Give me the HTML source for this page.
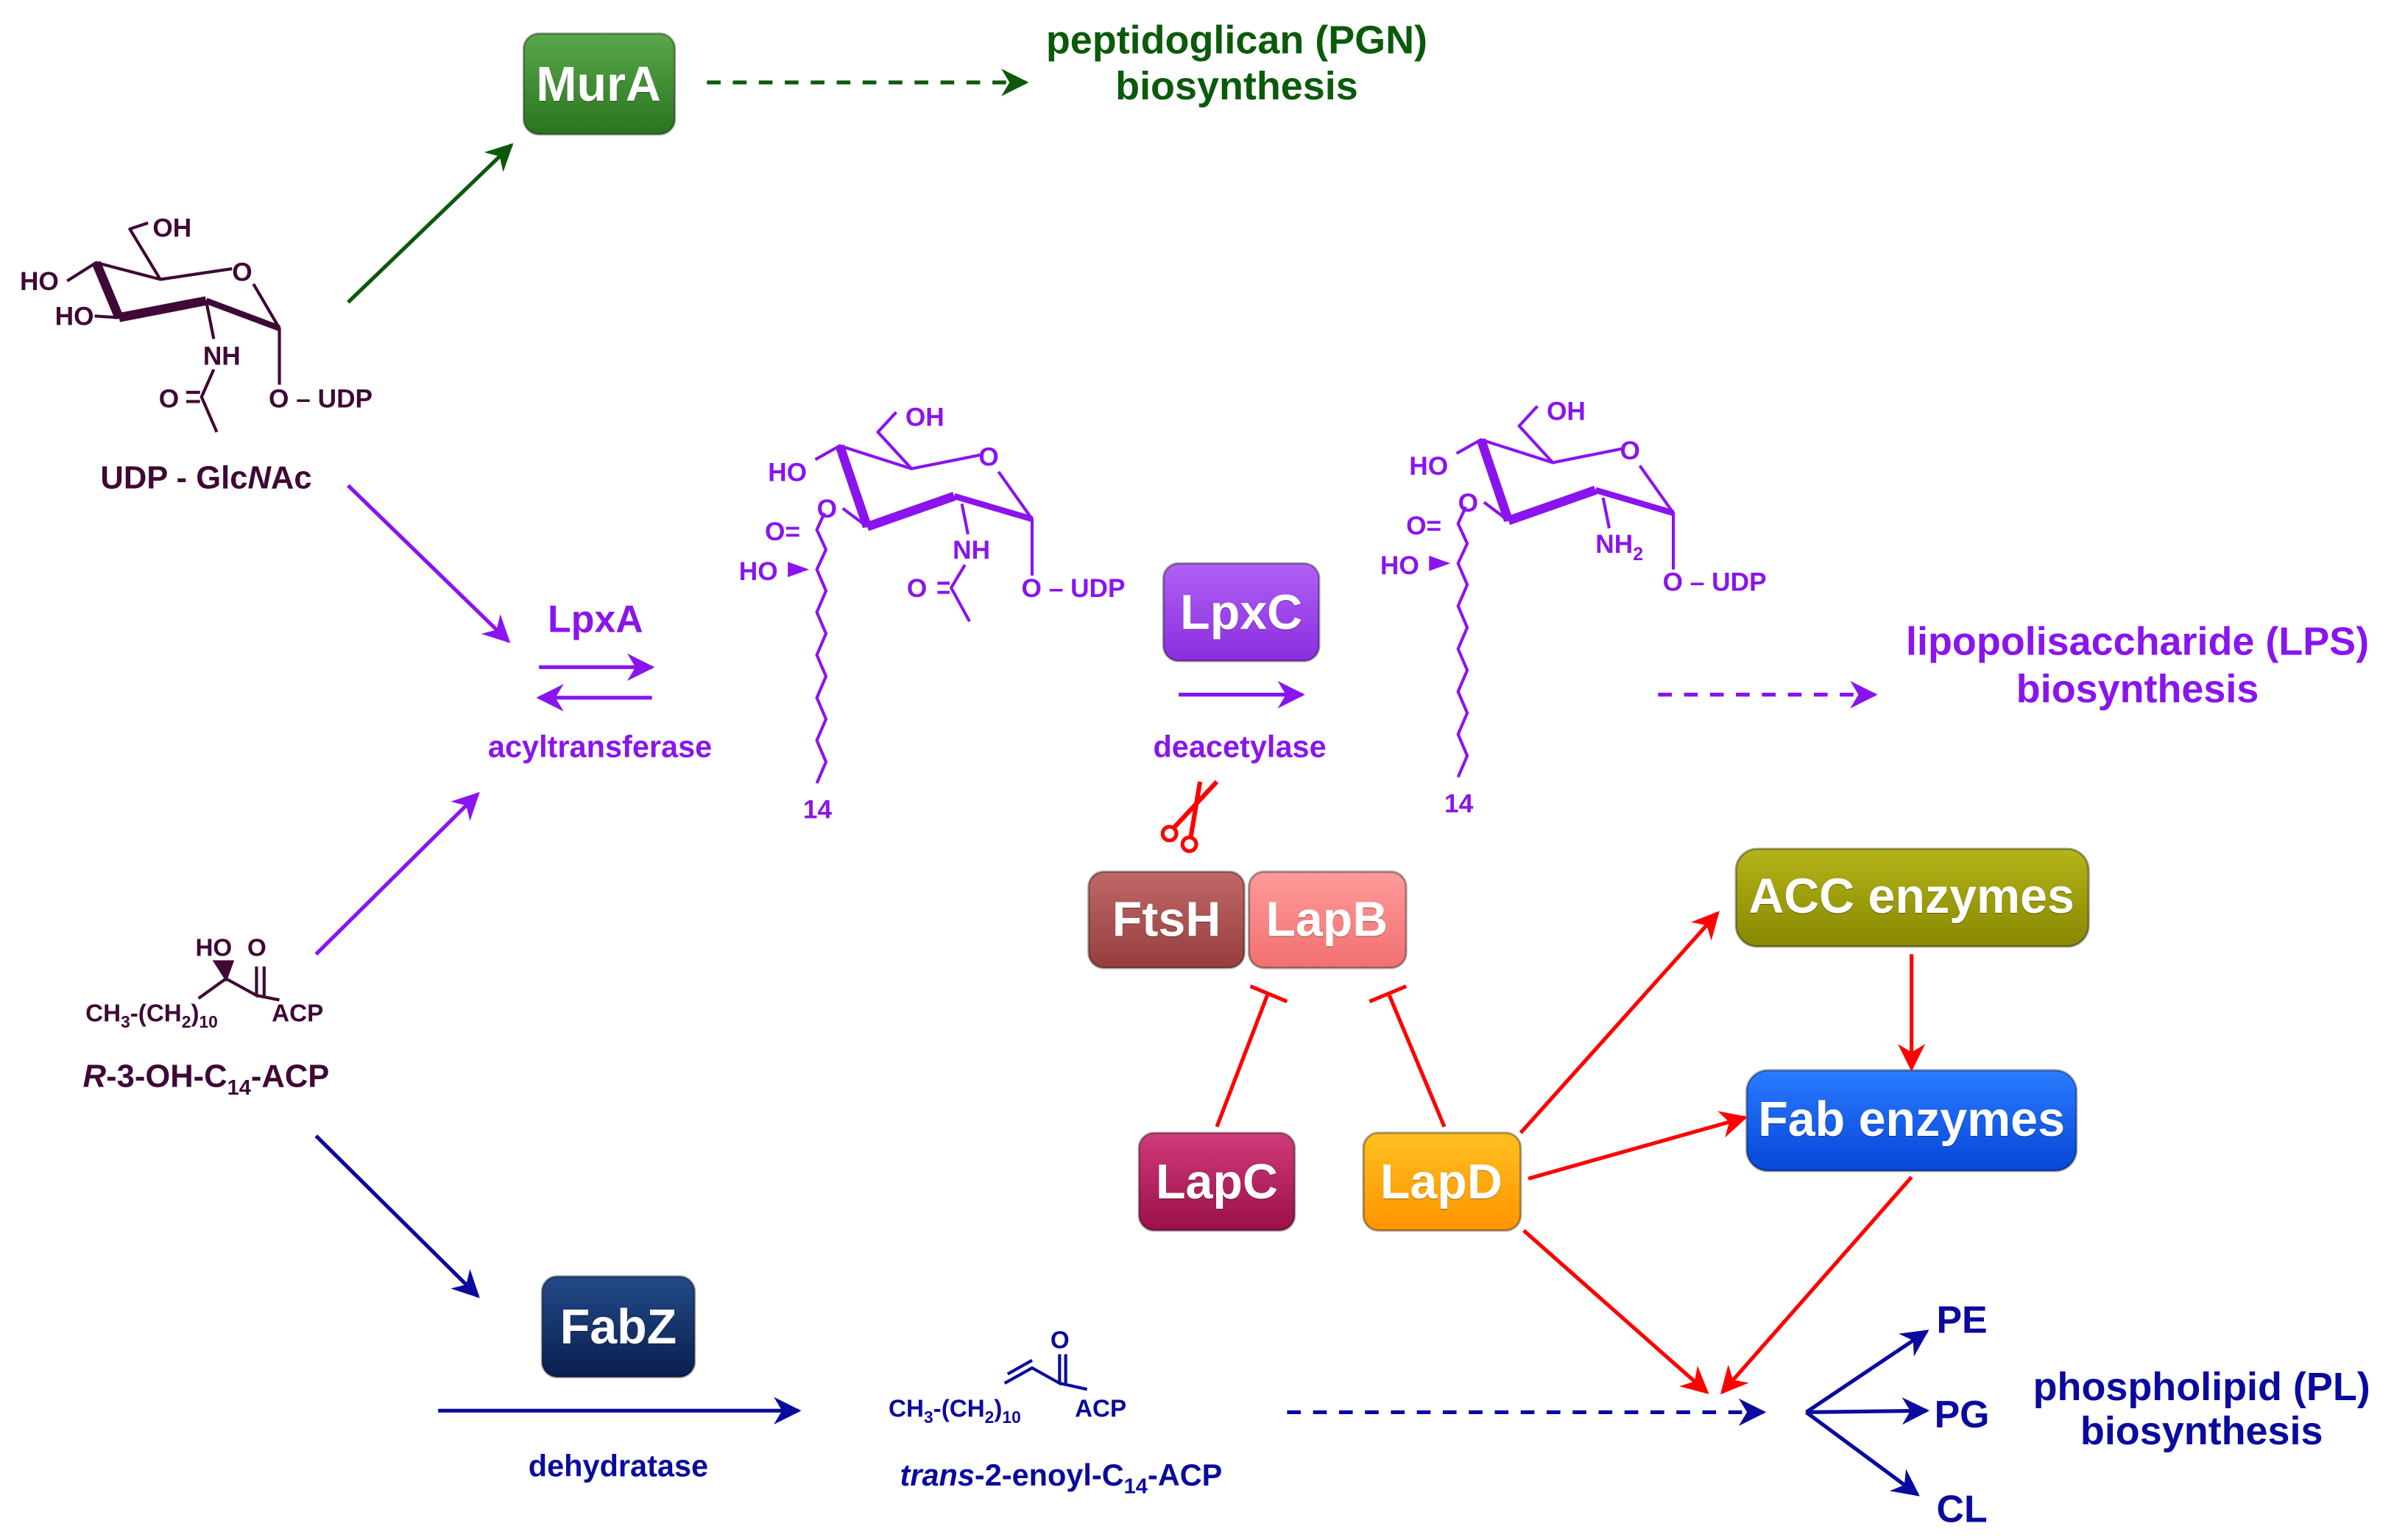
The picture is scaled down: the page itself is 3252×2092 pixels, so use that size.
<!DOCTYPE html>
<html><head><meta charset="utf-8"><style>
html,body{margin:0;padding:0;background:#fff}
svg{display:block}
text{font-family:"Liberation Sans Narrow","Liberation Sans",sans-serif;font-weight:bold}
</style></head><body>
<svg width="3252" height="2092" viewBox="0 0 1568 1008.7" preserveAspectRatio="none" xmlns="http://www.w3.org/2000/svg">
<defs>
<marker id="ap" viewBox="0 0 10 10" refX="9" refY="5" markerWidth="22" markerHeight="18" orient="auto" markerUnits="userSpaceOnUse"><path d="M0,0 L10,5 L0,10 L3,5z" fill="#8a14ee"/></marker>
<marker id="ab" viewBox="0 0 10 10" refX="9" refY="5" markerWidth="22" markerHeight="18" orient="auto" markerUnits="userSpaceOnUse"><path d="M0,0 L10,5 L0,10 L3,5z" fill="#0a0a9e"/></marker>
<marker id="ar" viewBox="0 0 10 10" refX="9" refY="5" markerWidth="22" markerHeight="18" orient="auto" markerUnits="userSpaceOnUse"><path d="M0,0 L10,5 L0,10 L3,5z" fill="#ff0000"/></marker>
<marker id="agg" viewBox="0 0 10 10" refX="9" refY="5" markerWidth="22" markerHeight="18" orient="auto" markerUnits="userSpaceOnUse"><path d="M0,0 L10,5 L0,10 L3,5z" fill="#0b5a0b"/></marker>
<linearGradient id="gMur" x1="0" y1="0" x2="0" y2="1"><stop offset="0" stop-color="#5aa84a"/><stop offset="1" stop-color="#2a7420"/></linearGradient>
<linearGradient id="gLpxC" x1="0" y1="0" x2="0" y2="1"><stop offset="0" stop-color="#b060f4"/><stop offset="1" stop-color="#8a2ee0"/></linearGradient>
<linearGradient id="gFts" x1="0" y1="0" x2="0" y2="1"><stop offset="0" stop-color="#c06868"/><stop offset="1" stop-color="#963e3e"/></linearGradient>
<linearGradient id="gLapB" x1="0" y1="0" x2="0" y2="1"><stop offset="0" stop-color="#ff9a9a"/><stop offset="1" stop-color="#f27070"/></linearGradient>
<linearGradient id="gACC" x1="0" y1="0" x2="0" y2="1"><stop offset="0" stop-color="#b4b41a"/><stop offset="1" stop-color="#878800"/></linearGradient>
<linearGradient id="gFab" x1="0" y1="0" x2="0" y2="1"><stop offset="0" stop-color="#2a7cff"/><stop offset="1" stop-color="#0646d8"/></linearGradient>
<linearGradient id="gLapC" x1="0" y1="0" x2="0" y2="1"><stop offset="0" stop-color="#d03a7a"/><stop offset="1" stop-color="#9a1048"/></linearGradient>
<linearGradient id="gLapD" x1="0" y1="0" x2="0" y2="1"><stop offset="0" stop-color="#ffc020"/><stop offset="1" stop-color="#ff9400"/></linearGradient>
<linearGradient id="gFabZ" x1="0" y1="0" x2="0" y2="1"><stop offset="0" stop-color="#234a88"/><stop offset="1" stop-color="#0a1e50"/></linearGradient>
</defs>

<g stroke="rgba(0,0,0,0.35)" stroke-width="1.5">
<rect x="343" y="22" width="99" height="66" rx="10" fill="url(#gMur)"/>
<rect x="762" y="369" width="102" height="64" rx="10" fill="url(#gLpxC)"/>
<rect x="713" y="571" width="102" height="63" rx="10" fill="url(#gFts)"/>
<rect x="818" y="571" width="103" height="63" rx="10" fill="url(#gLapB)"/>
<rect x="1137" y="556" width="231" height="64" rx="14" fill="url(#gACC)"/>
<rect x="1144" y="701" width="216" height="66" rx="14" fill="url(#gFab)"/>
<rect x="746" y="742" width="102" height="64" rx="10" fill="url(#gLapC)"/>
<rect x="893" y="742" width="103" height="64" rx="10" fill="url(#gLapD)"/>
<rect x="355" y="836" width="100" height="66" rx="10" fill="url(#gFabZ)"/>
</g>
<g fill="#fff" font-size="32" text-anchor="middle" style="text-shadow:0 1px 1px rgba(0,0,0,0.4)">
<text x="392" y="66">MurA</text>
<text x="813" y="412">LpxC</text>
<text x="764" y="613">FtsH</text>
<text x="869" y="613">LapB</text>
<text x="1252" y="598">ACC enzymes</text>
<text x="1252" y="744">Fab enzymes</text>
<text x="797" y="785">LapC</text>
<text x="944" y="785">LapD</text>
<text x="405" y="880">FabZ</text>
</g>

<g stroke="#0b5a0b" stroke-width="2.5" fill="none">
<line x1="228" y1="198" x2="335" y2="95" marker-end="url(#agg)"/>
<line x1="463" y1="54" x2="672" y2="54" stroke-dasharray="9,8" marker-end="url(#agg)"/>
</g>
<g fill="#0b5a0b" font-size="26" text-anchor="middle">
<text x="810" y="35">peptidoglican (PGN)</text>
<text x="810" y="65">biosynthesis</text>
</g>

<g stroke="#8a14ee" stroke-width="2.5" fill="none">
<line x1="228" y1="318" x2="333" y2="420" marker-end="url(#ap)"/>
<line x1="207" y1="625" x2="313" y2="520" marker-end="url(#ap)"/>
<line x1="353" y1="437" x2="427" y2="437" marker-end="url(#ap)"/>
<line x1="427" y1="457" x2="353" y2="457" marker-end="url(#ap)"/>
<line x1="772" y1="455" x2="853" y2="455" marker-end="url(#ap)"/>
<line x1="1086" y1="455" x2="1228" y2="455" stroke-dasharray="9,8" marker-end="url(#ap)"/>
</g>
<g fill="#8a14ee" text-anchor="middle">
<text x="390" y="414" font-size="25">LpxA</text>
<text x="393" y="496" font-size="20">acyltransferase</text>
<text x="812" y="496" font-size="20">deacetylase</text>
<text x="1400" y="429" font-size="26">lipopolisaccharide (LPS)</text>
<text x="1400" y="460" font-size="26">biosynthesis</text>
</g>

<g stroke="#0a0a9e" stroke-width="2.5" fill="none">
<line x1="207" y1="744" x2="313" y2="849" marker-end="url(#ab)"/>
<line x1="287" y1="924" x2="523" y2="924" marker-end="url(#ab)"/>
<line x1="843" y1="925" x2="1155" y2="925" stroke-dasharray="9,8" marker-end="url(#ab)"/>
<line x1="1183" y1="925" x2="1262" y2="872" marker-end="url(#ab)"/>
<line x1="1183" y1="925" x2="1262" y2="924" marker-end="url(#ab)"/>
<line x1="1183" y1="925" x2="1256" y2="979" marker-end="url(#ab)"/>
</g>
<g fill="#0a0a9e" text-anchor="middle">
<text x="405" y="967" font-size="20">dehydratase</text>
<text x="1285" y="873" font-size="25">PE</text>
<text x="1285" y="935" font-size="25">PG</text>
<text x="1285" y="997" font-size="25">CL</text>
<text x="1442" y="917" font-size="26">phospholipid (PL)</text>
<text x="1442" y="946" font-size="26">biosynthesis</text>
<text x="695" y="973" font-size="20"><tspan font-style="italic">trans</tspan>-2-enoyl-C<tspan font-size="14" dy="5">14</tspan><tspan dy="-5">-ACP</tspan></text>
</g>

<g stroke="#ff0000" stroke-width="2.5" fill="none">
<line x1="797" y1="738" x2="830" y2="652"/>
<line x1="819" y1="646" x2="843" y2="656"/>
<line x1="946" y1="738" x2="910" y2="652"/>
<line x1="897" y1="656" x2="921" y2="646"/>
<line x1="996" y1="742" x2="1125" y2="598" marker-end="url(#ar)"/>
<line x1="1001" y1="772" x2="1143" y2="732" marker-end="url(#ar)"/>
<line x1="998" y1="806" x2="1118" y2="912" marker-end="url(#ar)"/>
<line x1="1252" y1="771" x2="1128" y2="912" marker-end="url(#ar)"/>
<line x1="1252" y1="625" x2="1252" y2="700" marker-end="url(#ar)"/>
<circle cx="766" cy="546" r="4.5"/><circle cx="779" cy="553" r="4.5"/>
<path d="M769,542 L797,512 M780,548 L786,512" stroke-width="3"/>
</g>

<g stroke="#3f0836" stroke-width="2" fill="none" stroke-linejoin="round">
<path d="M44,184 L63,172 L105,183 L152,176"/>
<path d="M105,183 L85,150 L97,146"/>
<path d="M166,186 L183,215 L183,252"/>
<path d="M63,172 L78,208" stroke-width="6"/>
<path d="M78,208 L135,197" stroke-width="6"/>
<path d="M135,197 L183,215" stroke-width="4"/>
<path d="M62,207 L78,208"/>
<path d="M135,197 L140,222"/>
<path d="M140,242 L132,260 L142,283"/>
<path d="M122,257 L131,257 M122,263 L131,263"/>
</g>
<g fill="#3f0836" font-size="17">
<text x="100" y="155">OH</text>
<text x="13" y="190">HO</text>
<text x="36" y="213">HO</text>
<text x="152" y="184">O</text>
<text x="133" y="239">NH</text>
<text x="104" y="267">O</text>
<text x="176" y="267">O – UDP</text>
<text x="135" y="320" font-size="21" text-anchor="middle">UDP - Glc<tspan font-style="italic">N</tspan>Ac</text>
<text x="135" y="712" font-size="21" text-anchor="middle"><tspan font-style="italic">R</tspan>-3-OH-C<tspan font-size="14" dy="5">14</tspan><tspan dy="-5">-ACP</tspan></text>
<text x="128" y="626" font-size="16">HO</text>
<text x="162" y="626" font-size="16">O</text>
<text x="56" y="669" font-size="16">CH<tspan font-size="11" dy="4">3</tspan><tspan dy="-4">-(CH</tspan><tspan font-size="11" dy="4">2</tspan><tspan dy="-4">)</tspan><tspan font-size="11" dy="4">10</tspan></text>
<text x="178" y="669" font-size="16">ACP</text>
</g>
<g stroke="#3f0836" stroke-width="2" fill="none">
<path d="M130,654 L148,641 L168,652 L168,633 M173,652 L173,633 M168,652 L183,655"/>
<path d="M148,641 L141,630 L152,630 Z" fill="#3f0836"/>
</g>

<g stroke="#0a0a9e" stroke-width="2" fill="none">
<path d="M658,906 L676,896 L694,906 L694,887 M698,906 L698,887 M694,906 L712,910 M660,900 L676,891"/>
</g>
<g fill="#0a0a9e" font-size="16">
<text x="688" y="883">O</text>
<text x="582" y="928">CH<tspan font-size="11" dy="4">3</tspan><tspan dy="-4">-(CH</tspan><tspan font-size="11" dy="4">2</tspan><tspan dy="-4">)</tspan><tspan font-size="11" dy="4">10</tspan></text>
<text x="704" y="928">ACP</text>
</g>

<g id="ps1">
<g stroke="#8a14ee" stroke-width="2" fill="none" stroke-linejoin="round">
<path d="M534,301 L550,292 L597,307 L642,298"/>
<path d="M597,307 L575,283 L587,270"/>
<path d="M654,309 L676,340 L676,377"/>
<path d="M550,292 L568,345" stroke-width="6"/>
<path d="M568,345 L625,325" stroke-width="6"/>
<path d="M625,325 L676,340" stroke-width="4"/>
<path d="M568,345 L552,333"/>
<path d="M540,336 L535,347 L541,360 L535,373 L541,387 L535,401 L541,415 L535,429 L541,443 L535,457 L541,471 L535,485 L541,499 L535,513"/>
<path d="M630,330 L634,350"/>
</g>
<g fill="#8a14ee" font-size="17">
<text x="593" y="279">OH</text>
<text x="503" y="315">HO</text>
<text x="641" y="305">O</text>
<text x="535" y="339">O</text>
<text x="501" y="354">O=</text>
<text x="484" y="380">HO</text>
<text x="526" y="536">14</text>
</g>
<path d="M516,368 L530,373 L516,378Z" fill="#8a14ee"/>
</g>
<g stroke="#8a14ee" stroke-width="2" fill="none">
<path d="M632,370 L623,385 L635,407 M614,382 L622,382 M614,388 L622,388"/>
</g>
<g fill="#8a14ee" font-size="17">
<text x="624" y="366">NH</text>
<text x="594" y="391">O</text>
<text x="669" y="391">O – UDP</text>
</g>

<g transform="translate(420,-4)">
<use href="#ps1"/>
<text x="625" y="366" fill="#8a14ee" font-size="17">NH<tspan font-size="12" dy="5">2</tspan></text>
<text x="669" y="391" fill="#8a14ee" font-size="17">O – UDP</text>
</g>
</svg>
</body></html>
